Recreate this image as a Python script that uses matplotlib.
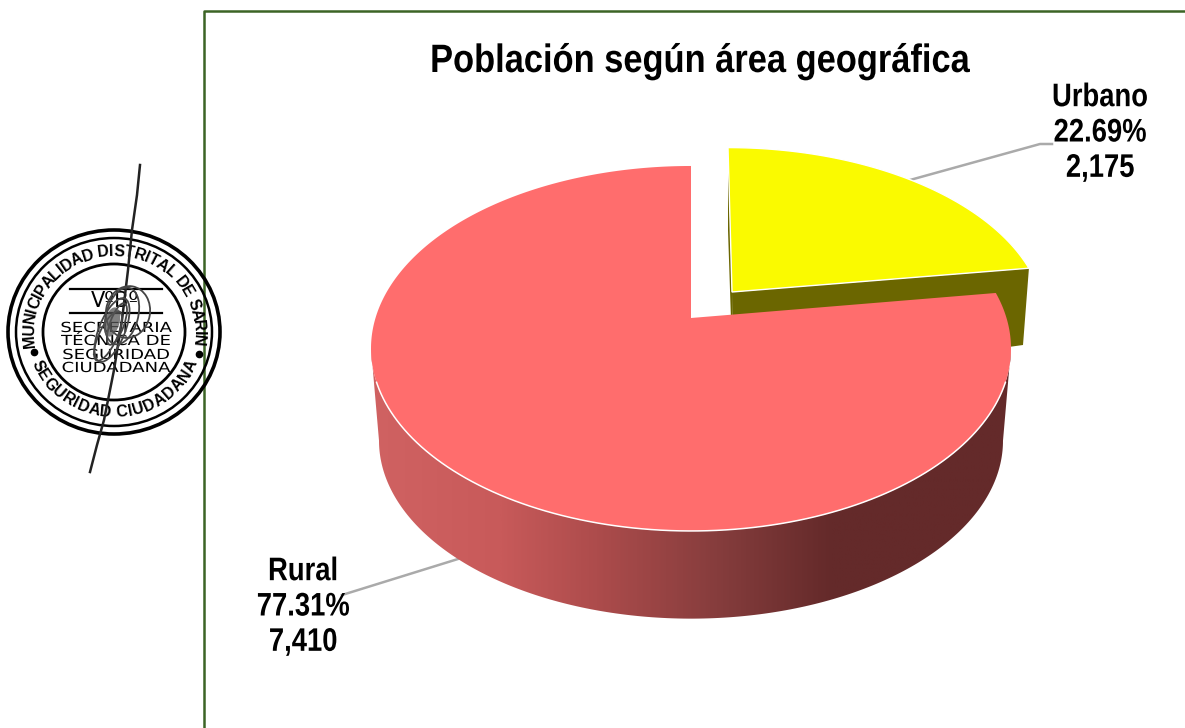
import numpy as np
import matplotlib
matplotlib.use('Agg')
import matplotlib.pyplot as plt
from matplotlib.colors import LinearSegmentedColormap
from matplotlib.font_manager import FontProperties
from matplotlib.patches import Ellipse, Polygon
from matplotlib.patheffects import AbstractPathEffect
from matplotlib.textpath import text_to_path
from matplotlib.transforms import Affine2D

title = 'Población según área geográfica'
areas = ['Urbano', 'Rural']
people = [2175, 7410]
percents = ['22.69%', '77.31%']

fig = plt.figure(figsize=(11.85, 7.28), dpi=100)
ax = fig.add_axes([0, 0, 1, 1])
ax.set_xlim(0, 1185)
ax.set_ylim(728, 0)
ax.axis('off')


class Squeeze(AbstractPathEffect):
    # the reference text is a stretched Arial, no such font here so scale x around xc
    def __init__(self, f, xc):
        super().__init__()
        self.tr = Affine2D().translate(-xc, 0).scale(f, 1).translate(xc, 0)

    def draw_path(self, renderer, gc, tpath, affine, rgbFace=None):
        renderer.draw_path(gc, tpath, affine + self.tr, rgbFace)


# slices go clockwise from 12 o'clock, angles come from the values
cut = 2 * np.pi * people[0] / sum(people)


def project(t, x0, y0, sx=1.0, sy=1.0, lean=0.0):
    # circle seen in perspective, so the far half looks shorter than the near one
    u, v = np.sin(t), np.cos(t)
    d = 1 + 0.167 * v
    return np.c_[x0 + sx * 315.5 * u / d + lean * v, y0 - sy * 177.4 * v / d]


# frame
ax.plot([204, 204, 1185], [728, 11, 11], color='#3c6425', lw=1.8, zorder=1)

# urbano slice, pulled out
t = np.linspace(0, cut, 120)
rim = project(t, 732, 292, sx=0.976, sy=0.95, lean=-4)
ax.add_patch(Polygon([(728, 147), (732, 292), (733, 380), (728, 230)], fc='#6b6600', ec='none', zorder=2))
ax.add_patch(Polygon([(732, 292), rim[-1], (1023, 345), (733, 385)], fc='#6b6600', ec='none', zorder=2))
ax.add_patch(Polygon(np.vstack([[(732, 292)], rim]), fc='#fafa00', ec='white', lw=1.0, zorder=3))

# rural side wall with its gradient
t = np.radians(np.linspace(99.6, 260.4, 200))
upper = project(t, 691, 318)
lower = project(t, 691, 411, sx=0.975, sy=0.975)
wall = Polygon(np.vstack([upper, lower[::-1]]), fc='none', ec='none', zorder=4)
ax.add_patch(wall)
shade = LinearSegmentedColormap.from_list('shade', [
    (0.0, '#d06262'), (0.2, '#c85a5a'), (0.35, '#ad4c4c'),
    (0.55, '#843c3c'), (0.72, '#642a2a'), (1.0, '#642a2a')])
im = ax.imshow(np.linspace(0, 1, 400)[None, :], cmap=shade, extent=(371, 1012, 620, 340),
               aspect='auto', zorder=4)
im.set_clip_path(wall)
ax.set_xlim(0, 1185)
ax.set_ylim(728, 0)

# rural slice top
t = np.linspace(cut, 2 * np.pi, 400)
ax.add_patch(Polygon(np.vstack([[(691, 318)], project(t, 691, 318)]), fc='#ff6d6d', ec='none', zorder=5))
front = np.radians(np.linspace(110, 250, 200))
ax.plot(*project(front, 691, 318).T, color='white', lw=1.1, zorder=6)

# leaders
ax.plot([1052, 1040, 910], [144, 144, 180], color='#aaaaaa', lw=1.8, zorder=2)
ax.plot([458, 342], [559, 595], color='#aaaaaa', lw=1.8, zorder=2)

# labels
ax.text(700, 61, title, ha='center', va='center', fontsize=28.5, fontweight='bold', family='Liberation Sans',
        path_effects=[Squeeze(0.87, 700)])
label_pos = [(1100, 133), (303, 607)]
for name, n, pct, pos in zip(areas, people, percents, label_pos):
    ax.text(pos[0], pos[1], f'{name}\n{pct}\n{n:,}', ha='center', va='center', fontsize=23.5,
            fontweight='bold', family='Liberation Sans', linespacing=1.18, zorder=7,
            path_effects=[Squeeze(0.84, pos[0])])

# stamp
cx, cy = 114, 332
for rx, ry, lw in [(106, 102, 2.6), (98, 94, 1.8), (71, 68, 2.0)]:
    ax.add_patch(Ellipse((cx, cy), 2 * rx, 2 * ry, fc='none', ec='black', lw=lw, zorder=8))

ring_font = FontProperties(family='Liberation Sans', weight='bold', size=11.5)


def ring_text(s, start, stop, rx, ry, flip=False):
    # letters placed by their own widths so that narrow ones do not leave gaps
    w = np.array([text_to_path.get_text_width_height_descent(c if c != ' ' else 'I', ring_font, False)[0] for c in s])
    mid = np.cumsum(w) - w / 2
    angles = np.radians(start + (stop - start) * (mid - mid[0]) / (mid[-1] - mid[0]))
    for ch, a in zip(s, angles):
        x, y = cx + rx * np.cos(a), cy - ry * np.sin(a)
        rot = np.degrees(a) - 90 if not flip else np.degrees(a) + 90
        ax.text(x, y, ch, ha='center', va='center', rotation=rot, fontproperties=ring_font, zorder=8)


ring_text('MUNICIPALIDAD DISTRITAL DE SARIN', 186, -6, 84.5, 80.5)
ring_text('SEGURIDAD CIUDADANA', 205, 335, 84.5, 80.5, flip=True)
ax.plot([34, 199], [352, 354], ls='none', marker='o', ms=4.5, color='black', zorder=8)

ax.plot([70, 162], [289, 289], color='black', lw=1.6, zorder=8)
ax.plot([70, 162], [313, 313], color='black', lw=1.6, zorder=8)
ax.text(115, 301, 'VºBº', ha='center', va='center', fontsize=15, family='DejaVu Sans', zorder=8)
stamp_lines = ['SECRETARIA', 'TÉCNICA DE', 'SEGURIDAD', 'CIUDADANA']
for line, y in zip(stamp_lines, [328, 341, 355, 368]):
    ax.text(116, y, line, ha='center', va='center', fontsize=10, family='DejaVu Sans', zorder=8,
            path_effects=[Squeeze(1.3, 116)])

# signature
ax.plot([140, 137, 132, 128, 122, 114, 104, 97, 90], [165, 195, 230, 270, 320, 370, 420, 445, 472],
        color='#222222', lw=1.8, zorder=9)
loops = [(128, 312, 44, 52, 10), (122, 316, 32, 58, 15), (112, 330, 26, 68, 22), (108, 336, 18, 54, 25), (117, 324, 14, 44, 20)]
for ex, ey, w, h, ang in loops:
    ax.add_patch(Ellipse((ex, ey), w, h, angle=ang, fc='none', ec='#444444', lw=1.3, zorder=9))
ax.add_patch(Ellipse((112, 322), 15, 30, angle=15, fc='#555555', ec='none', alpha=0.75, zorder=9))

fig.savefig('out.png', dpi=100)
